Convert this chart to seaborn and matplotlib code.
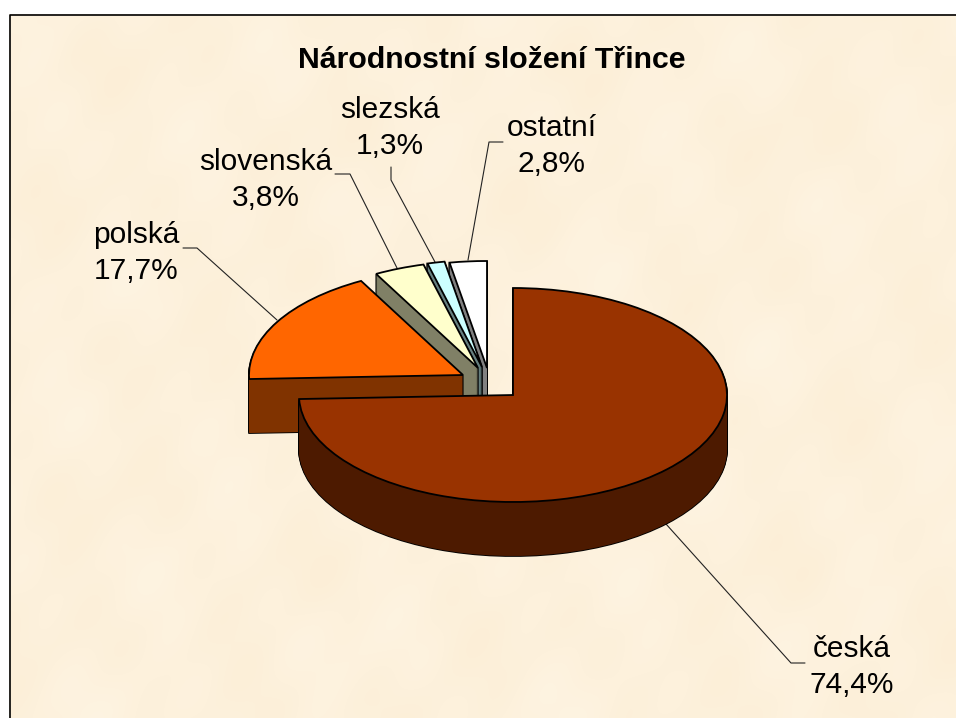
import numpy as np
import pandas as pd
import matplotlib
matplotlib.use('Agg')
import matplotlib.pyplot as plt
import seaborn as sns

# Data
categories = ['česká', 'polská', 'slovenská', 'slezská', 'ostatní']
shares = [74.4, 17.7, 3.8, 1.3, 2.8]
top_colors = ['#993300', '#ff6600', '#ffffcc', '#ccffff', '#ffffff']
wall_colors = ['#4d1a00', '#803300', '#808066', '#668080', '#808080']
title_text = 'Národnostní složení Třince'

# Layout in pixels of the 956x718 picture
W, H = 956, 718
RX, RY = 214, 107
CX, CY = 513, 395
DEPTH = 54
apex_px = [(513, 395), (463, 375), (478, 368), (482, 367), (487, 368)]
draw_rank = [4, 3, 2, 1, 0]  # ceska is drawn last, it sits in front
label_pos = [(852, 667), (136, 253), (266, 180), (390, 128), (552, 146)]
leaders = [
    [(666, 524), (791, 663), (805, 663)],
    [(183, 248), (197, 248), (277, 320)],
    [(335, 174), (350, 174), (398, 270)],
    [(391, 167), (391, 180), (435, 262)],
    [(503, 142), (489, 142), (468, 260)],
]

sns.set_theme(style='white')
plt.rcParams['font.family'] = ['Liberation Sans', 'DejaVu Sans']

df = pd.DataFrame({'category': categories, 'share': shares})
tops = sns.color_palette(top_colors)
walls = sns.color_palette(wall_colors)

fig = plt.figure(figsize=(W / 100, H / 100), dpi=100, facecolor='white')

# Background with the parchment look and the frame
bg = fig.add_axes([0, 0, 1, 1])
bg.set_xlim(0, W)
bg.set_ylim(H, 0)
bg.axis('off')
yy, xx = np.mgrid[0:H, 0:W]
tex = (np.sin(xx / 37.0 + yy / 61.0) + np.sin(xx / 19.0 - yy / 43.0 + 1.0)
       + np.sin(yy / 23.0 + 2.0) * np.sin(xx / 71.0) + np.sin(xx / 11.0 + yy / 13.0) * 0.5)
img = np.dstack([253 + tex * 0.3, 241 + tex * 0.8, 220 + tex * 1.6]) / 255
bg.imshow(np.clip(img, 0, 1), extent=(0, W, H, 0), aspect='auto', zorder=0)
bg.set_xlim(0, W)
bg.set_ylim(H, 0)
bg.fill_between([0, W], 0, 14, color='white', zorder=1, lw=0)
bg.fill_between([0, 9], 0, H, color='white', zorder=1, lw=0)
bg.plot([10, 10, W], [H, 14.5, 14.5], color='black', lw=1.2, zorder=2, solid_capstyle='butt')

for pts in leaders:
    xs, ys = zip(*pts)
    bg.plot(xs, ys, color='#222222', lw=0.8, zorder=3)

# Pie axes: one data unit is RX pixels across and RY pixels down
xr, y_low, y_high = 1.6, 1.2, 1.4
ax = fig.add_axes([(CX - xr * RX) / W, (H - CY - y_low * RY) / H, 2 * xr * RX / W, (y_low + y_high) * RY / H])


def draw_layer(drop, colors, edge, lw, shift):
    wedges, _ = ax.pie(df['share'], startangle=90, counterclock=False, colors=colors,
                       wedgeprops={'edgecolor': edge, 'linewidth': lw})
    for i, w in enumerate(wedges):
        dx = (apex_px[i][0] - CX) / RX
        dy = (CY - apex_px[i][1] - drop) / RY
        w.set_center((dx, dy))
        w.set_zorder(draw_rank[i] * 10 + shift)


for d in range(DEPTH, 0, -1):
    draw_layer(d, ['black'] * 5, 'black', 1.3, 1)
for d in range(DEPTH, 0, -1):
    draw_layer(d, walls, 'none', 0, 2)
draw_layer(0, tops, 'black', 1.3, 3)

ax.set_aspect('auto')
ax.set_xlim(-xr, xr)
ax.set_ylim(-y_low, y_high)
ax.axis('off')
ax.patch.set_alpha(0)

# Texts go on top of everything
over = fig.add_axes([0, 0, 1, 1])
over.set_xlim(0, W)
over.set_ylim(H, 0)
over.axis('off')
over.patch.set_alpha(0)
over.text(492, 59.5, title_text, ha='center', va='center', fontsize=21.8, fontweight='bold', color='black')
for (x, y), name, val in zip(label_pos, df['category'], df['share']):
    txt = name + '\n' + f'{val:.1f}%'.replace('.', ',')
    over.text(x, y, txt, ha='center', va='center', fontsize=21.5, color='black', linespacing=1.35)

fig.savefig('out.png', dpi=100)
